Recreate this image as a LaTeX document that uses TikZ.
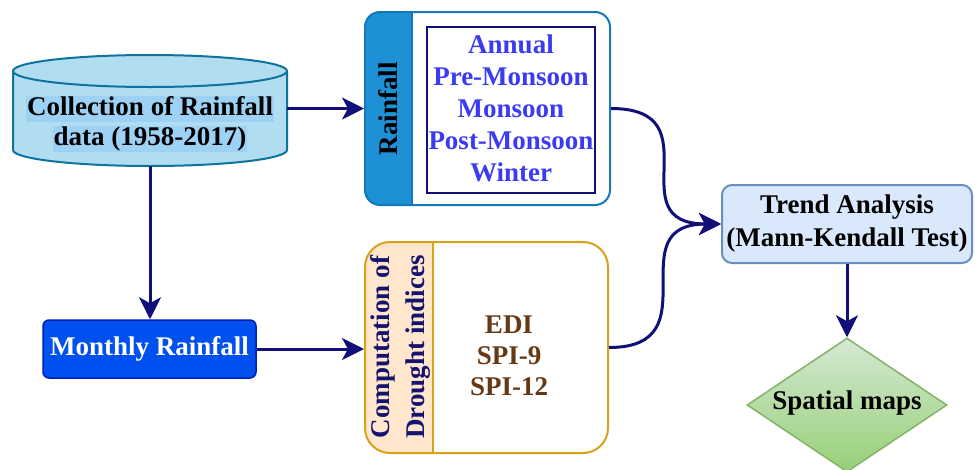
\documentclass[tikz,border=0pt]{standalone}
\usepackage{fontspec}
\setmainfont{Liberation Serif}
\usetikzlibrary{arrows.meta,shapes.geometric}

\definecolor{flow}{RGB}{16,16,120}
\definecolor{cylfill}{HTML}{B1DDF0}
\definecolor{cylline}{HTML}{10739E}
\definecolor{cylhl}{HTML}{9DD2F5}
\definecolor{rainline}{HTML}{1479B8}
\definecolor{rainstripe}{HTML}{1E91D6}
\definecolor{seasontext}{HTML}{3B3BF2}
\definecolor{drline}{HTML}{D9A21B}
\definecolor{drstripe}{HTML}{FFE6CC}
\definecolor{drtext}{HTML}{14146E}
\definecolor{idxtext}{HTML}{663814}
\definecolor{mrfill}{HTML}{0050EF}
\definecolor{mrline}{HTML}{001DBC}
\definecolor{trfill}{HTML}{DAE8FC}
\definecolor{trline}{HTML}{6C8EBF}
\definecolor{spline}{HTML}{82B366}
\definecolor{sptop}{HTML}{D5E8D4}
\definecolor{spbottom}{HTML}{97D077}

\begin{document}
\begin{tikzpicture}[x=1pt,y=-1pt,
  txt/.style={font={\fontsize{27}{30}\selectfont\bfseries}, align=center, inner sep=0pt},
  flowarrow/.style={draw=flow, line width=3pt, -{Stealth[length=22pt,width=22pt,inset=6pt]}},
  plain/.style={minimum width=#1, inner sep=0pt, outer sep=0pt},
]
\fill[white] (0,0) rectangle (978,469);
\useasboundingbox (0,0) rectangle (978,469);

% --- data store (cylinder) ---
\path[fill=cylfill, draw=cylline, line width=2pt]
  (13,71) -- (13,150) arc[start angle=180, end angle=0, x radius=137, y radius=16]
  -- (287,71) arc[start angle=0, end angle=-180, x radius=137, y radius=16] -- cycle;
\draw[cylline, line width=2pt] (13,71) arc[start angle=180, end angle=0, x radius=137, y radius=16];
\node[plain=274, minimum height=111] (coll) at (150,110.5) {};
\node[txt, fill=cylhl, text height=19pt, text depth=6pt, inner xsep=1pt, inner ysep=0.5pt] (colla) at (150,109) {Collection of Rainfall};
\node[txt, fill=cylhl, text height=19pt, text depth=6pt, inner xsep=1pt, inner ysep=0.5pt] (collb) at (150,139) {data (1958-2017)};

% --- seasonal rainfall swimlane ---
\begin{scope}
  \clip[rounded corners=15pt] (365,12) rectangle (610,205);
  \fill[rainstripe] (365,12) rectangle (412,205);
\end{scope}
\node[draw=rainline, line width=2pt, rounded corners=15pt, minimum width=245, minimum height=193, inner sep=0pt] (rain) at (487.5,108.5) {};
\draw[rainline, line width=2pt] (412,12) -- (412,205);
\node[txt, rotate=90] (rainlbl) at (388.5,108.5) {Rainfall};
\node[draw=flow, line width=1.2pt, minimum width=168, minimum height=166, inner sep=0pt] (seasonbox) at (511,110) {};
\node[txt, text=seasontext, font={\fontsize{27}{32}\selectfont\bfseries}] (seasons) at (511,108)
  {Annual\\Pre-Monsoon\\Monsoon\\Post-Monsoon\\Winter};

% --- drought indices swimlane ---
\begin{scope}
  \clip[rounded corners=25pt] (365,242) rectangle (608,453);
  \fill[drstripe] (365,242) rectangle (433,453);
\end{scope}
\node[draw=drline, line width=2pt, rounded corners=25pt, minimum width=243, minimum height=211, inner sep=0pt] (drought) at (486.5,347.5) {};
\draw[drline, line width=2pt] (433,242) -- (433,453);
\node[txt, rotate=90, text=drtext, font={\fontsize{27}{35}\selectfont\bfseries}] (drlbl) at (400,347)
  {Computation of\\Drought indices};
\node[txt, text=idxtext, font={\fontsize{27}{31}\selectfont\bfseries}] (idx) at (509,356) {EDI\\SPI-9\\SPI-12};

% --- monthly rainfall ---
\node[txt, draw=mrline, fill=mrfill, text=white, line width=1.5pt, rounded corners=6pt,
  minimum width=213, minimum height=58] (monthly) at (149.5,349) {Monthly Rainfall};

% --- trend analysis ---
\node[txt, draw=trline, fill=trfill, line width=2pt, rounded corners=10pt,
  minimum width=250, minimum height=78, font={\fontsize{27}{33}\selectfont\bfseries}] (trend) at (847,224)
  {Trend Analysis\\(Mann-Kendall Test)};

% --- spatial maps ---
\node[diamond, draw=spline, line width=1.5pt, top color=sptop, bottom color=spbottom,
  minimum width=200, minimum height=134, inner sep=0pt] (spatial) at (847,405) {};
\node[txt] (spatlbl) at (847,403) {Spatial maps};

% --- connectors ---
\draw[flowarrow] (coll.east |- rain.west) -- (rain.west);
\draw[flowarrow] (coll.south) -- (coll.south |- monthly.north);
\draw[flowarrow] (monthly.east) -- (monthly.east -| drought.west);
\draw[flowarrow] (rain.east) .. controls +(105,0) and +(-105,0) .. (trend.west);
\draw[flowarrow] (drought.east) .. controls +(105,0) and +(-105,0) .. (trend.west);
\draw[flowarrow] (trend.south) -- (spatial.north);
\end{tikzpicture}
\end{document}
